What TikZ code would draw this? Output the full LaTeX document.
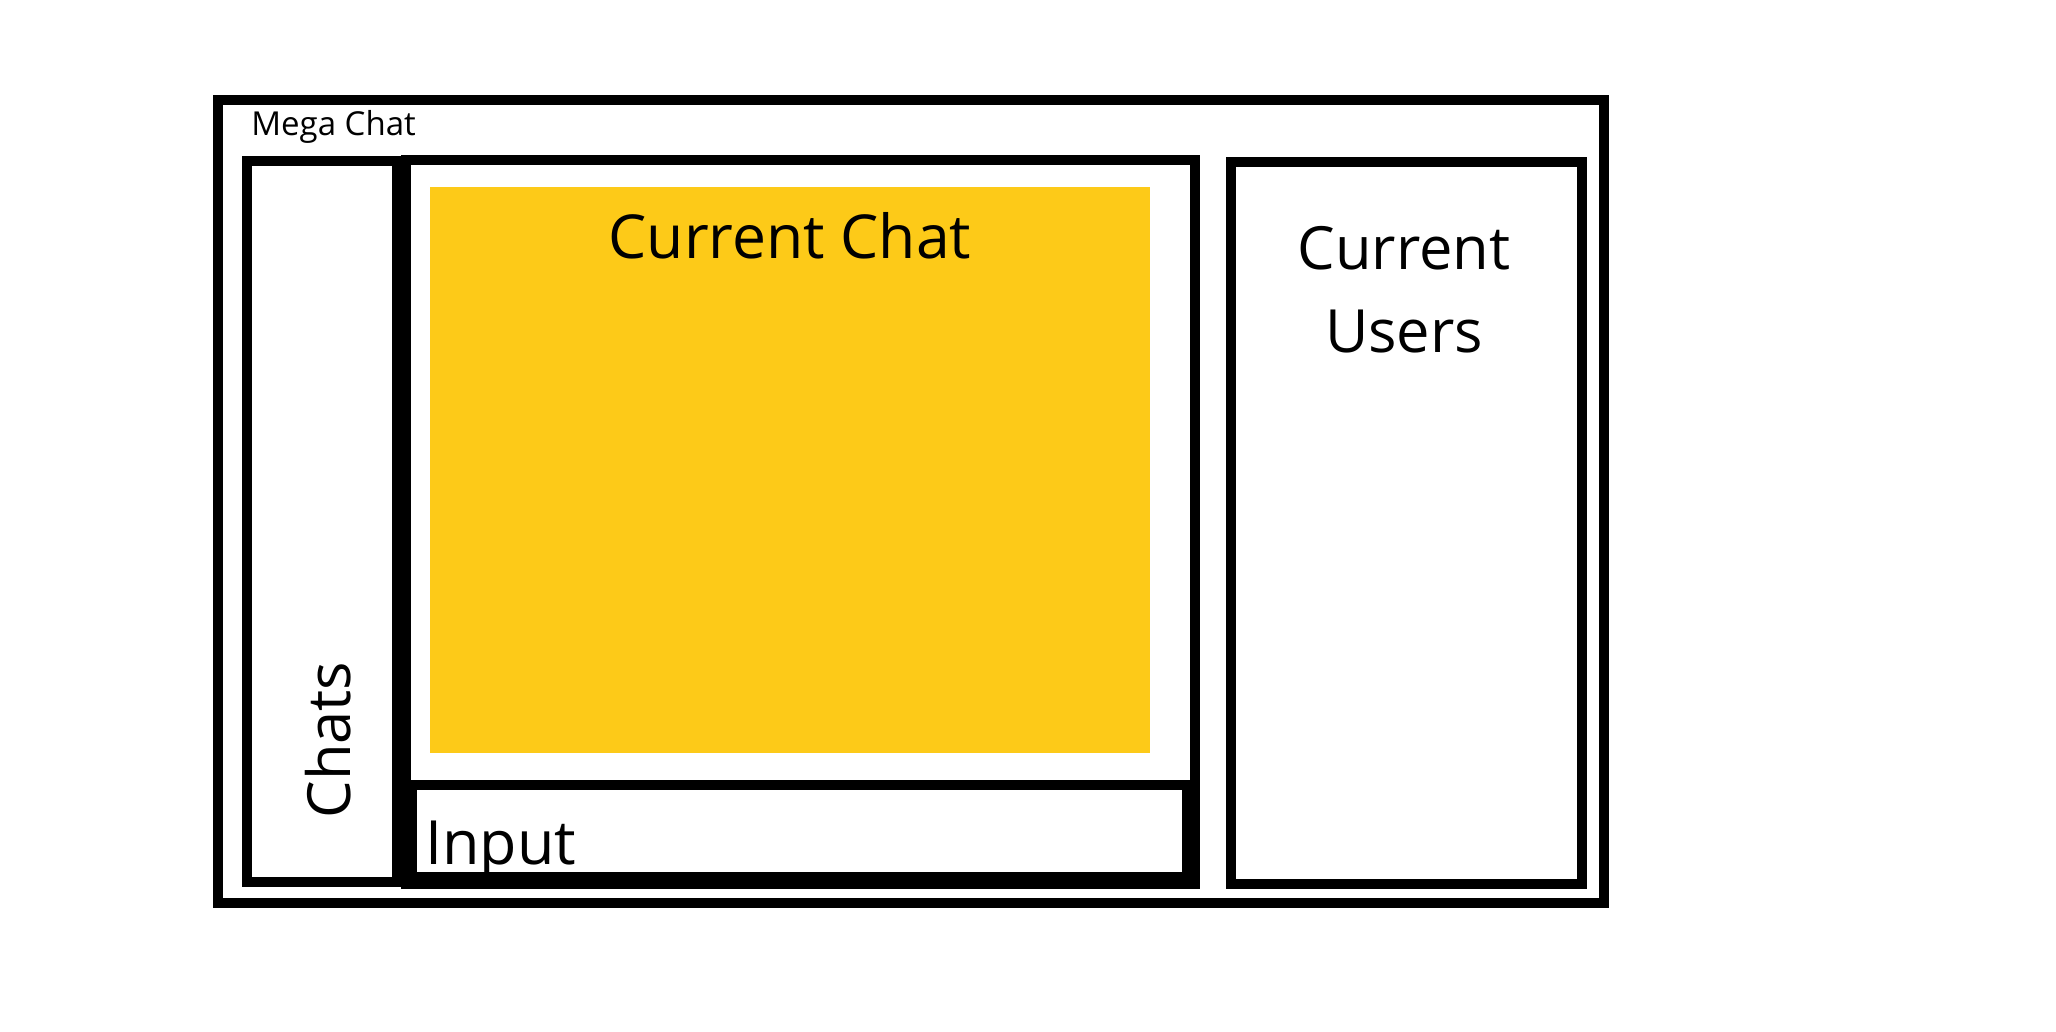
\documentclass[tikz,border=0pt]{standalone}
\usepackage{fontspec}
\setmainfont{Open Sans}
\usetikzlibrary{fit}
\definecolor{chatyellow}{RGB}{253,202,24}
\tikzset{
  box/.style={draw=black, line width=5pt, inner sep=0pt, outer sep=0pt},
  big/.style={font=\fontsize{29.8}{36}\selectfont, inner sep=0pt},
  small/.style={font=\fontsize{16.5}{20}\selectfont, inner sep=0pt}
}
\begin{document}
\begin{tikzpicture}[x=0.5pt,y=-0.5pt]
\useasboundingbox[fill=white] (0,0) rectangle (2056,1032);
\node[box, fit={(218,100) (1604,903)}] (outer) {};
\node[box, fit={(247,161) (397,882)}] (chats) {};
\node[box, fit={(406,160) (1195,884)}] (current) {};
\node[fill=chatyellow, inner sep=0pt, outer sep=0pt, fit={(430,187) (1150,753)}] (yellow) {};
\node[box, fit={(412,785) (1187,877)}] (input) {};
\node[box, fit={(1231,162) (1582,884)}] (users) {};
\node[small, anchor=base west] (title) at (251,136) {Mega Chat};
\node[big, anchor=base, font=\fontsize{30.3}{36}\selectfont] (chatlabel) at (790,259) {Current Chat};
\node[big, anchor=base] (users1) at (1404,270) {Current};
\node[big, anchor=base] (users2) at (1404,352) {Users};
\node[big, anchor=base, rotate=90] (chatslabel) at (350,740) {Chats};
\node[big, anchor=base west, font=\fontsize{30.5}{36}\selectfont] (inputlabel) at (425,864) {Input};
\end{tikzpicture}
\end{document}
